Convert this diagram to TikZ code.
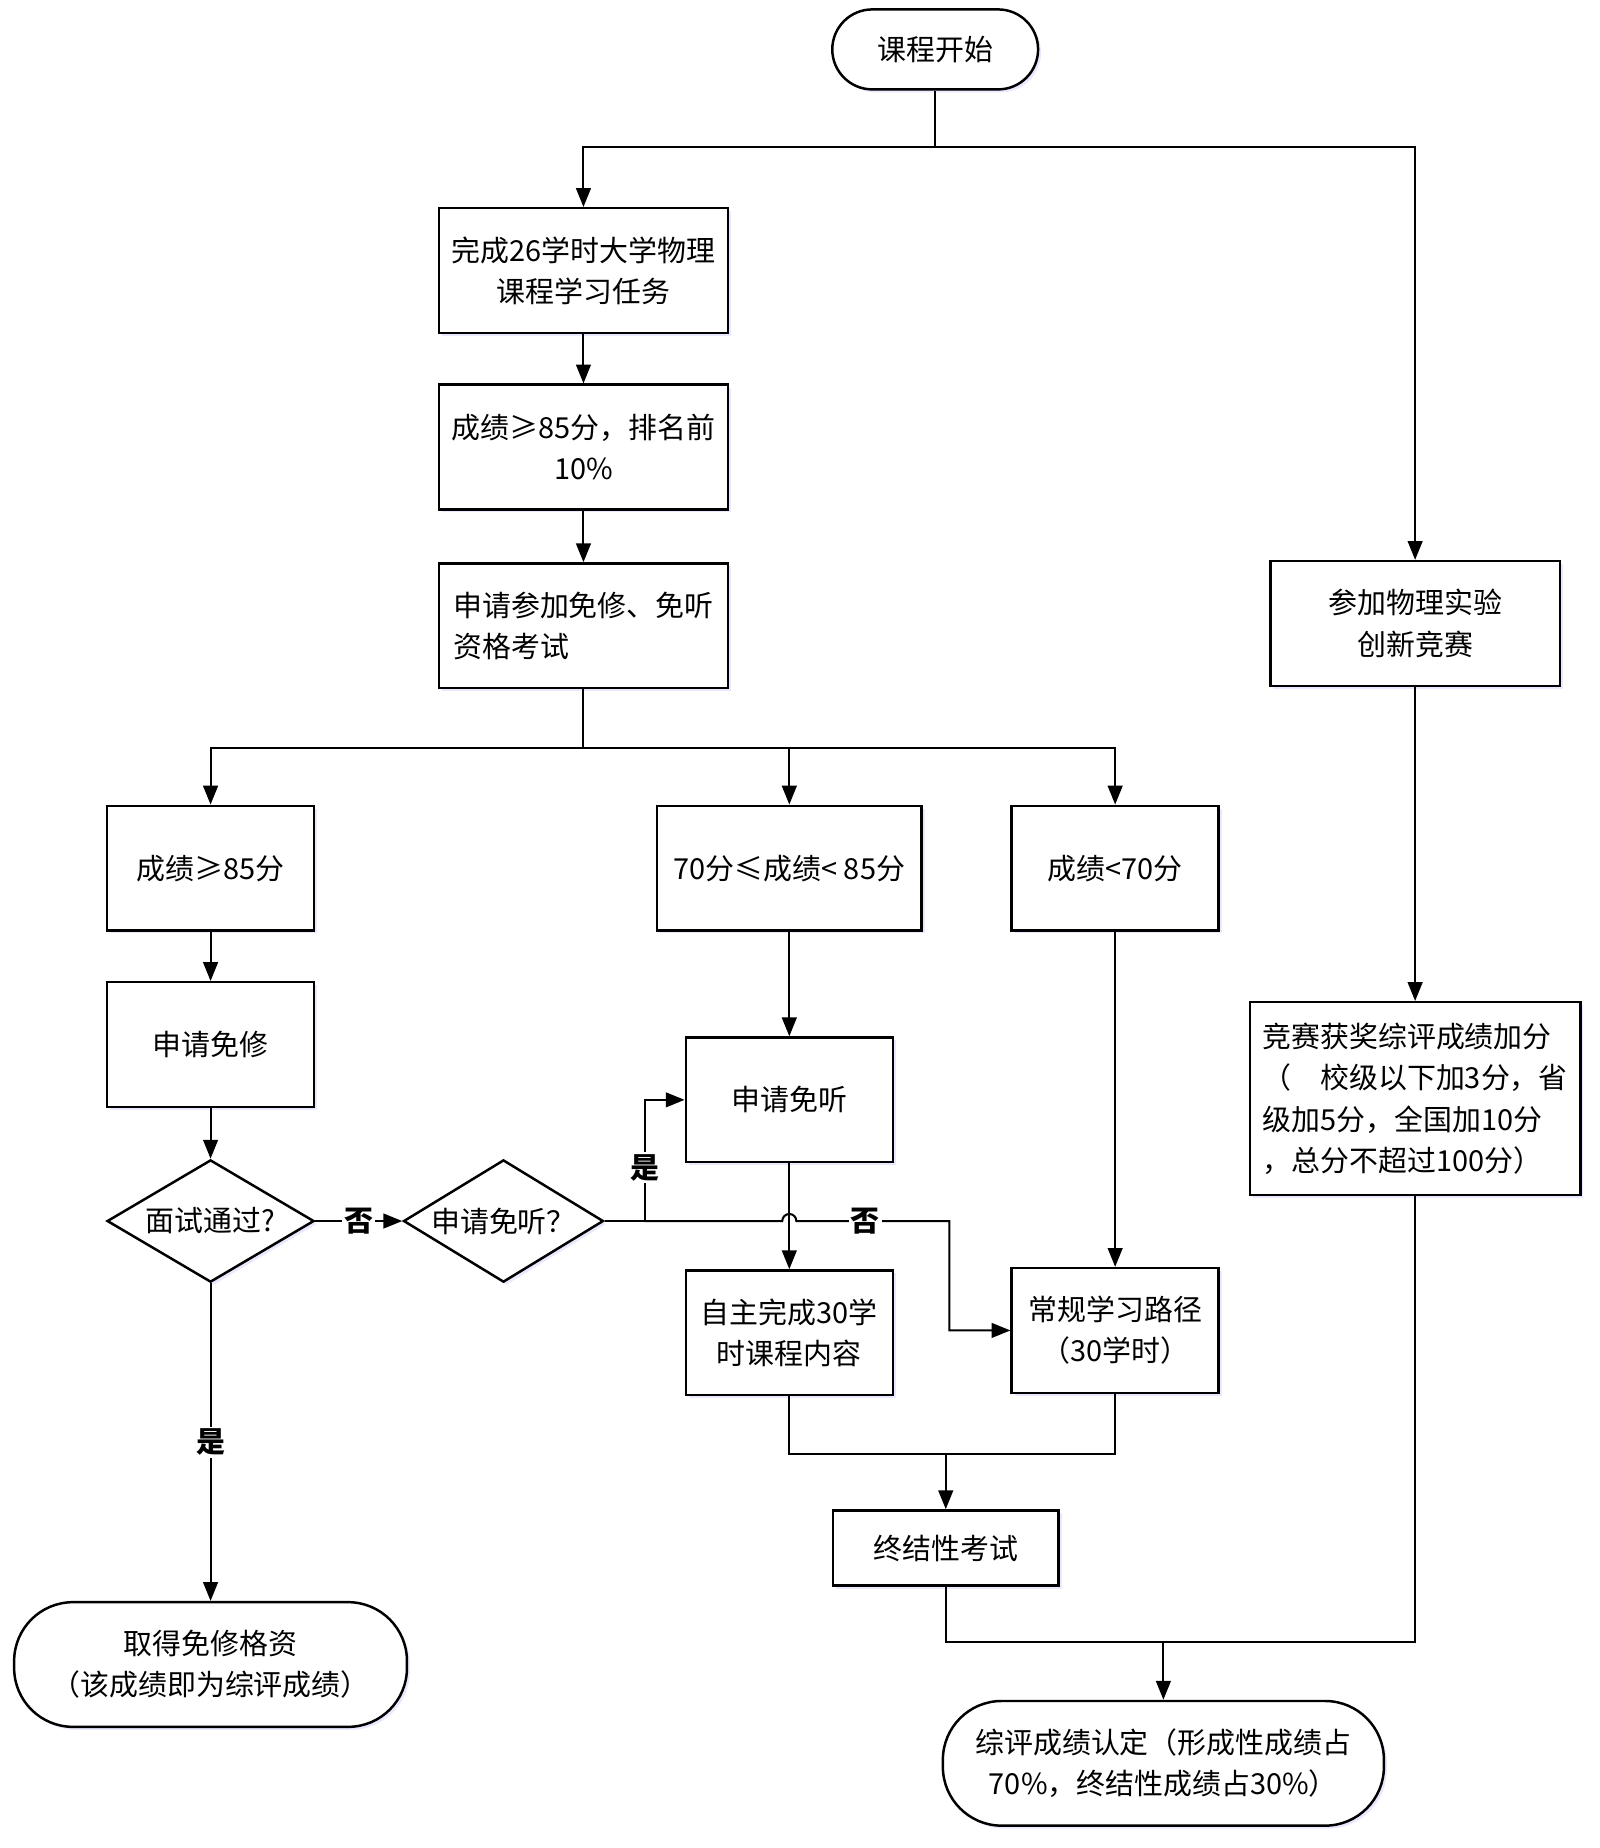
\documentclass[tikz,border=0pt]{standalone}
\usepackage{fontspec}
\newfontfamily\cjk{Noto Sans CJK SC}
\usepackage{tikz}
\usetikzlibrary{shapes, arrows.meta, positioning, calc, shadows}

\tikzset{
  base/.style={draw, line width=1.2pt, fill=white, align=center, inner sep=2pt,
    font=\cjk\fontsize{14}{20}\selectfont,
    drop shadow={shadow xshift=0.05cm, shadow yshift=-0.05cm, fill=blue!30, opacity=0.3}},
  boite/.style={base, rectangle, minimum width=4.92cm, minimum height=2.12cm},
  petite/.style={base, rectangle, minimum width=3.52cm, minimum height=2.12cm},
  terminal/.style={base, rectangle, rounded corners=#1},
  choix/.style={base, diamond, aspect=1.7, inner sep=0pt, minimum width=3.52cm, minimum height=2.08cm},
  fleche/.style={line width=1pt, -{Triangle[length=0.32cm, width=0.25cm]}},
  trait/.style={line width=1pt},
  etiq/.style={fill=white, inner sep=1pt, font=\cjk\bfseries\fontsize{14}{16}\selectfont}
}

\begin{document}
\begin{tikzpicture}[x=0.02cm, y=-0.02cm]
  \useasboundingbox (0,0) rectangle (1360,1571);
  % Colonne principale
  \node[terminal=0.68cm, minimum width=3.5cm, minimum height=1.36cm] (debut) at (795,42) {课程开始};
  \node[boite] (cours) at (496,230) {完成26学时大学物理\\课程学习任务};
  \node[boite] (note) at (496,380) {成绩≥85分，排名前\\10\%};
  \node[boite, align=left] (examen) at (496,532) {申请参加免修、免听\\资格考试};
  % Trois niveaux de note
  \node[petite] (haute) at (179,738) {成绩≥85分};
  \node[boite, minimum width=4.5cm] (moyenne) at (671,738) {70分≤成绩< 85分};
  \node[petite] (basse) at (948,738) {成绩<70分};
  \node[petite] (dispense) at (179,888) {申请免修};
  \node[choix] (entretien) at (179,1038) {面试通过?};
  \node[choix, minimum width=3.4cm] (demande) at (428,1038) {申请免听？};
  \node[petite] (ecoute) at (671,935) {申请免听};
  \node[petite] (autonome) at (671,1133) {自主完成30学\\时课程内容};
  \node[petite] (normal) at (948,1131) {常规学习路径\\（30学时）};
  \node[base, minimum width=3.84cm, minimum height=1.28cm] (final) at (804,1316) {终结性考试};
  \node[terminal=1cm, minimum width=6.68cm, minimum height=2.12cm] (acquis) at (179,1415) {取得免修格资\\（该成绩即为综评成绩）};
  \node[terminal=1cm, minimum width=7.5cm, minimum height=2.12cm] (bilan) at (989,1499) {综评成绩认定（形成性成绩占\\70\%，终结性成绩占30\%）};
  % Colonne du concours
  \node[boite] (concours) at (1203,530) {参加物理实验\\创新竞赛};
  \node[base, align=left, minimum width=5.62cm, minimum height=3.28cm] (bonus) at (1203,934) {竞赛获奖综评成绩加分\\（　校级以下加3分，省\\级加5分，全国加10分\\，总分不超过100分）};

  % Liaisons
  \coordinate (fourche) at (795,125);
  \draw[fleche] (debut.south) -- (fourche) -| (cours.north);
  \draw[fleche] (fourche) -| (concours.north);
  \draw[fleche] (cours) -- (note);
  \draw[fleche] (note) -- (examen);
  \coordinate (branche) at (496,636);
  \draw[trait] (examen.south) -- (branche);
  \draw[fleche] (branche) -| (haute.north);
  \draw[fleche] (branche) -| (moyenne.north);
  \draw[fleche] (branche) -| (basse.north);
  \draw[fleche] (haute) -- (dispense);
  \draw[fleche] (dispense) -- (entretien);
  \draw[fleche] (entretien) -- node[etiq] {否} (demande);
  \draw[fleche] (entretien.south) -- node[etiq] {是} (acquis.north);
  \draw[fleche] (moyenne) -- (ecoute);
  \draw[fleche] (basse) -- (normal);
  \draw[fleche] (ecoute) -- (autonome);
  % Oui / non apres la demande
  \coordinate (oui) at (548,1038);
  \coordinate (coude) at (807,1038);
  \draw[fleche] (demande.east) -- (oui) |- node[etiq, pos=0.22] {是} (ecoute.west);
  \draw[fleche] (oui) -- ($(ecoute.south |- oui)+(-6,0)$)
    arc[start angle=180, end angle=0, radius=0.12cm] -- node[etiq, pos=0.45] {否} (coude) |- (normal.west);
  % Regroupements en bas
  \coordinate (jonction) at (804,1236);
  \draw[trait] (autonome.south) |- (jonction) -| (normal.south);
  \draw[fleche] (jonction) -- (final.north);
  \draw[fleche] (concours) -- (bonus);
  \coordinate (union) at (989,1396);
  \draw[trait] (final.south) |- (union) -| (bonus.south);
  \draw[fleche] (union) -- (bilan.north);
\end{tikzpicture}
\end{document}
